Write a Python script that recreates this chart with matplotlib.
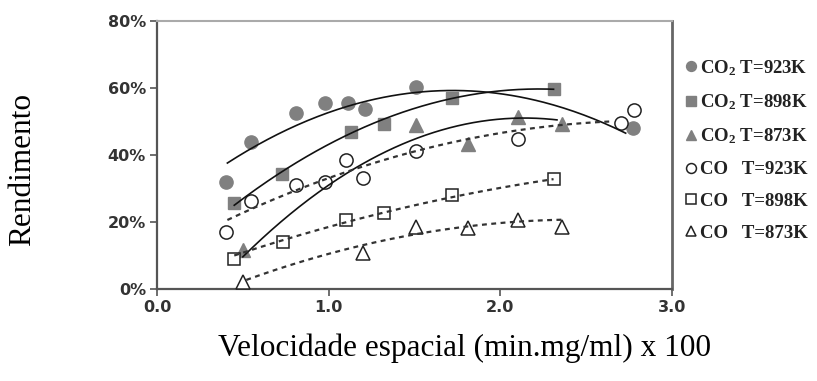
import numpy as np
import matplotlib
matplotlib.use('Agg')
import matplotlib.pyplot as plt
from matplotlib.ticker import FuncFormatter

plt.rcParams['font.family'] = ['DejaVu Sans']
plt.rcParams['mathtext.default'] = 'regular'

# CO2 yields (%), filled markers
co2_923_x = [0.40, 0.55, 0.81, 0.98, 1.11, 1.21, 1.51, 2.77]
co2_923_y = [32.0, 44.0, 52.4, 55.4, 55.6, 53.7, 60.2, 48.1]
co2_898_x = [0.45, 0.73, 1.13, 1.32, 1.72, 2.31]
co2_898_y = [25.6, 34.2, 46.9, 49.3, 56.9, 59.6]
co2_873_x = [0.50, 1.51, 1.81, 2.10, 2.36]
co2_873_y = [11.5, 49.0, 43.3, 51.4, 49.2]

# CO yields (%), open markers
co_923_x = [0.40, 0.55, 0.81, 0.98, 1.10, 1.20, 1.51, 2.10, 2.70, 2.78]
co_923_y = [17.1, 26.4, 31.0, 31.9, 38.4, 33.1, 41.2, 44.7, 49.6, 53.4]
co_898_x = [0.45, 0.735, 1.10, 1.32, 1.72, 2.31]
co_898_y = [9.0, 14.1, 20.6, 22.6, 28.1, 32.8]
co_873_x = [0.50, 1.20, 1.51, 1.81, 2.10, 2.36]
co_873_y = [2.2, 10.7, 18.6, 18.1, 20.6, 18.6]

# 2nd-order trendlines: y = a*x^2 + b*x + c, drawn between x_from and x_to
trend_co2_923 = [-12.56, 43.28, 21.97, 0.41, 2.73]
trend_co2_898 = [-11.02, 49.03, 5.17, 0.45, 2.31]
trend_co2_873 = [-15.40, 65.92, -19.51, 0.50, 2.33]
trend_co_923 = [-4.90, 28.13, 9.89, 0.41, 2.64]
trend_co_898 = [-2.48, 19.10, 1.91, 0.45, 2.31]
trend_co_873 = [-4.76, 23.48, -8.22, 0.52, 2.36]

labels = ['CO$_2$ T=923K', 'CO$_2$ T=898K', 'CO$_2$ T=873K',
          'CO   T=923K', 'CO   T=898K', 'CO   T=873K']

GREY = '#808080'
DOTTED = (0, (2.2, 2.0))

fig = plt.figure(figsize=(8.17, 3.81), dpi=100)
ax = fig.add_axes([157 / 817, 92 / 381, 515 / 817, 268 / 381])

series = [
    (co2_923_x, co2_923_y, trend_co2_923, 'o', True),
    (co2_898_x, co2_898_y, trend_co2_898, 's', True),
    (co2_873_x, co2_873_y, trend_co2_873, '^', True),
    (co_923_x, co_923_y, trend_co_923, 'o', False),
    (co_898_x, co_898_y, trend_co_898, 's', False),
    (co_873_x, co_873_y, trend_co_873, '^', False),
]
msize = {'o': 9.5, 's': 9.0, '^': 9.5}

handles = []
for (xs, ys, tr, mk, filled), lab in zip(series, labels):
    if filled:
        h, = ax.plot(xs, ys, linestyle='none', marker=mk, ms=msize[mk],
                     mfc=GREY, mec=GREY, zorder=3)
    else:
        h, = ax.plot(xs, ys, linestyle='none', marker=mk, ms=msize[mk],
                     mfc='white', mec='#222222', mew=1.1, zorder=3)
    handles.append(h)
    xf = np.linspace(tr[3], tr[4], 200)
    ax.plot(xf, np.polyval(tr[:3], xf),
            color='#111111' if filled else '#333333',
            lw=1.2 if filled else 1.6,
            linestyle='-' if filled else DOTTED, zorder=4)

ax.set_xlim(0, 3.0)
ax.set_ylim(0, 80)
ax.set_xticks([0, 1, 2, 3])
ax.set_yticks([0, 20, 40, 60, 80])
ax.xaxis.set_major_formatter(FuncFormatter(lambda v, p: f'{v:.1f}'))
ax.yaxis.set_major_formatter(FuncFormatter(lambda v, p: f'{v:.0f}%'))
ax.tick_params(axis='both', direction='out', length=5, width=1.2,
               color='#555555', labelsize=11.5, labelcolor='#333333', pad=3)
for t in ax.get_xticklabels() + ax.get_yticklabels():
    t.set_fontweight('bold')

ax.spines['left'].set_color('#555555')
ax.spines['left'].set_linewidth(1.6)
ax.spines['bottom'].set_color('#555555')
ax.spines['bottom'].set_linewidth(1.6)
ax.spines['top'].set_color('#aaaaaa')
ax.spines['top'].set_linewidth(1.5)
ax.spines['right'].set_color('#666666')
ax.spines['right'].set_linewidth(2.0)

fig.text(23 / 817, 1 - 170 / 381, 'Rendimento', rotation=90,
         family='Liberation Serif', fontsize=22.5, ha='center', va='center')
fig.text(464 / 817, 1 - 348 / 381, 'Velocidade espacial (min.mg/ml) x 100',
         family='Liberation Serif', fontsize=22.5, ha='center', va='center')

# legend markers are drawn smaller than the plot markers
leg = ax.legend(handles, labels, loc='upper left',
                bbox_to_anchor=(684 / 817, 1 - 58 / 381),
                bbox_transform=fig.transFigure, frameon=False,
                prop={'family': 'Liberation Serif', 'size': 13.5, 'weight': 'bold'},
                handlelength=0.7, handletextpad=0.15, labelspacing=0.78,
                borderpad=0, borderaxespad=0, markerscale=0.75)
for txt in leg.get_texts():
    txt.set_color('#222222')

fig.savefig('out.png', dpi=100)
